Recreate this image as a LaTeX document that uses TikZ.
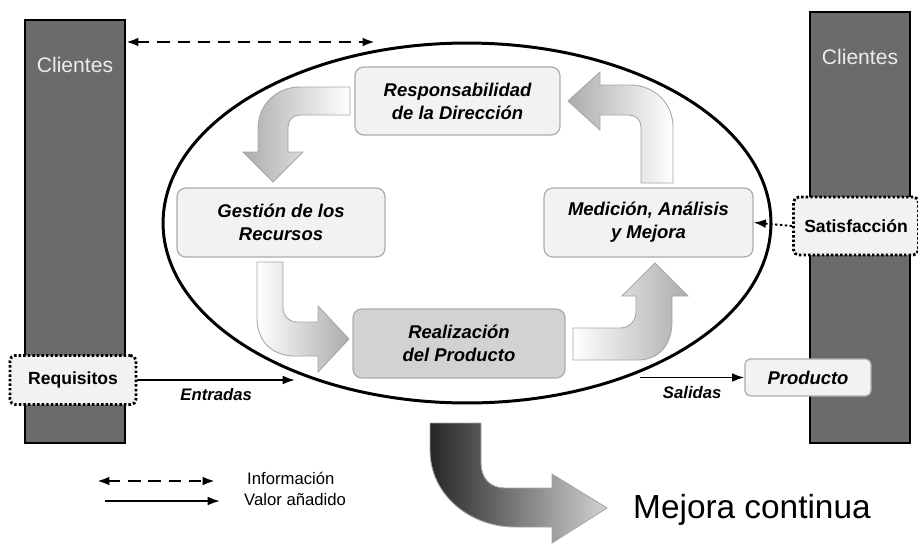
\documentclass[tikz,border=0pt]{standalone}
\usepackage{fontspec}
\setmainfont{Liberation Sans}
\usetikzlibrary{arrows.meta}
\newcommand{\barcolor}{black!58}
\newcommand{\boxcolor}{gray!10}
\newcommand{\edgecolor}{gray!65}
\newcommand{\boxfont}{\fontsize{10.5}{13}\selectfont\bfseries\itshape}
\newcommand{\tip}{Latex[length=7pt,width=5pt]}

\tikzset{
  procbox/.style={draw=\edgecolor, fill=\boxcolor, rounded corners=5pt, line width=0.7pt, align=center, font=\boxfont, inner sep=0pt},
  tagbox/.style={draw, line width=1.6pt, dash pattern=on 1.4pt off 1.2pt, fill=\boxcolor, rounded corners=3pt, inner sep=0pt, font=\fontsize{10}{12}\selectfont\bfseries},
  clientbar/.style={draw, line width=1.2pt, fill=\barcolor, inner sep=0pt},
  clienttext/.style={text=gray!15, font=\fontsize{12}{14}\selectfont},
  flowarrow/.style={draw=gray!70, line width=0.5pt},
  valueline/.style={line width=1.1pt, -{\tip}},
  infoline/.style={line width=1.5pt, dash pattern=on 7pt off 4.5pt, {\tip}-{\tip}},
  flowlabel/.style={font=\fontsize{9.5}{11}\selectfont\bfseries\itshape},
  legendtext/.style={anchor=west, font=\fontsize{9.5}{11}\selectfont},
}

\begin{document}
\begin{tikzpicture}[x=0.02cm, y=-0.02cm]
\useasboundingbox (0,0) rectangle (918,545);

% clientes
\node[clientbar, minimum width=2cm, minimum height=8.46cm] (barL) at (75,231.5) {};
\node[clientbar, minimum width=2cm, minimum height=8.62cm] (barR) at (860,227.5) {};
\node[clienttext] (cliL) at (75,65) {Clientes};
\node[clienttext] (cliR) at (860,57) {Clientes};

% ciclo
\draw[line width=1.7pt] (467,223) ellipse [x radius=6.08cm, y radius=3.6cm];

\node[procbox, minimum width=4.1cm, minimum height=1.36cm] (resp) at (457.5,101) {Responsabilidad\\de la Dirección};
\node[procbox, minimum width=4.16cm, minimum height=1.38cm] (gest) at (281,222.5) {Gestión de los\\Recursos};
\node[procbox, minimum width=4.18cm, minimum height=1.38cm] (medi) at (648.5,222.5) {Medición, Análisis\\y Mejora};
\node[procbox, fill=gray!35, minimum width=4.24cm, minimum height=1.38cm] (real) at (459,343.5) {Realización\\del Producto};

\node[tagbox, minimum width=2.52cm, minimum height=0.98cm] (req) at (73,380) {Requisitos};
\node[tagbox, minimum width=2.5cm, minimum height=1.16cm] (sat) at (856,226) {Satisfacción};
\node[procbox, rounded corners=3pt, minimum width=2.52cm, minimum height=0.74cm] (prod) at (808,377.5) {Producto};

% flechas del ciclo
\path[flowarrow, left color=gray!65, right color=white] (350,87) -- (300,87) .. controls (276,87) and (258,105) .. (258,129) -- (258,152) -- (243,152) -- (273,182) -- (303,152) -- (288,152) -- (288,127) .. controls (288,120) and (293,115) .. (300,115) -- (350,115) -- cycle;
\path[flowarrow, left color=white, right color=gray!65] (257,262) -- (257,318) .. controls (257,340) and (271,356) .. (295,356) -- (318,356) -- (318,372) -- (349,339) -- (318,306) -- (318,322) -- (297,322) .. controls (289,322) and (283,316) .. (283,308) -- (283,262) -- cycle;
\path[flowarrow, left color=white, right color=gray!65] (573,328) -- (620,328) .. controls (629,328) and (636,321) .. (636,312) -- (636,296) -- (622,296) -- (655,263) -- (688,296) -- (672,296) -- (672,322) .. controls (672,343) and (660,360) .. (638,360) -- (573,360) -- cycle;
\path[flowarrow, left color=gray!65, right color=white] (641,183) -- (641,127) .. controls (641,120) and (636,115) .. (629,115) -- (600,115) -- (600,130) -- (568,101) -- (600,72) -- (600,85) -- (630,85) .. controls (654,85) and (673,103) .. (673,127) -- (673,183) -- cycle;

% mejora continua
\path[flowarrow, left color=black!85, right color=gray!35] (430,423) -- (430,450) .. controls (430,495) and (470,527) .. (515,527) -- (552,527) -- (552,543) -- (607,508) -- (552,474) -- (552,488) -- (505,488) .. controls (490,488) and (481,478) .. (481,463) -- (481,423) -- cycle;
\node[anchor=west, font=\fontsize{19}{22}\selectfont] (mej) at (627,510) {Mejora continua};

% conexiones
\coordinate (infoEnd) at (375,42);
\draw[infoline] (barL.east |- infoEnd) -- (infoEnd);
\coordinate (inEnd) at (295,380);
\draw[valueline] (req.east) -- (inEnd) node[flowlabel, midway, below=1pt] (ent) {Entradas};
\coordinate (outStart) at (640,377.5);
\draw[valueline] (outStart) -- (prod.west) node[flowlabel, midway, below=1pt] (sal) {Salidas};
\draw[line width=1.1pt, dash pattern=on 1.4pt off 1.4pt, -{\tip}] (sat.west) -- (medi.east);

% leyenda
\coordinate (l1a) at (97,481);
\coordinate (l1b) at (215,481);
\coordinate (l2a) at (105,501);
\coordinate (l2b) at (220,501);
\draw[infoline] (l1a) -- (l1b);
\draw[valueline] (l2a) -- (l2b);
\node[legendtext] (infoTxt) at (241,478) {Información};
\node[legendtext] (valTxt) at (238,500) {Valor añadido};
\end{tikzpicture}
\end{document}
